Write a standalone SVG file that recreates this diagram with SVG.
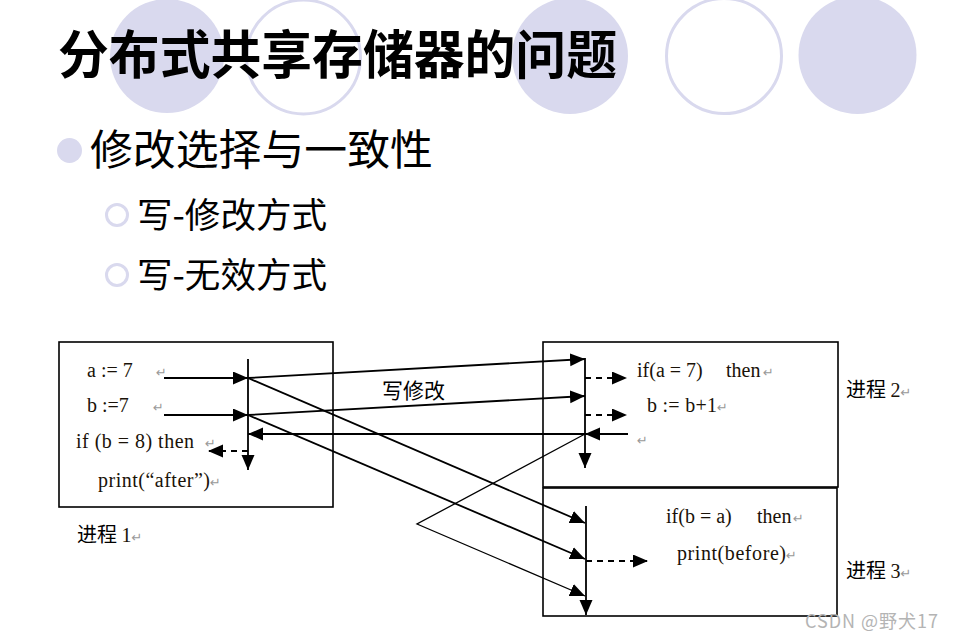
<svg xmlns="http://www.w3.org/2000/svg" width="954" height="640" viewBox="0 0 954 640">
<defs>
<style>
.bg{fill:#d9d9ee}
.ring{fill:none;stroke:#d9d9ee;stroke-width:3}
.title{font-family:"Noto Sans CJK SC","Noto Sans",sans-serif;font-weight:700;font-size:52px;fill:#000}
.cn{font-family:"Noto Sans CJK SC",sans-serif;fill:#000}
.code{font-family:"Liberation Serif",serif;font-size:20px;fill:#1a1208}
.ret{font-family:"DejaVu Sans",sans-serif;font-size:13px;fill:#999}
.box{fill:#fff;stroke:#000;stroke-width:1.6}
.ln{fill:none;stroke:#000;stroke-width:1.8}
.thin{fill:none;stroke:#000;stroke-width:1.3}
.dash{fill:none;stroke:#000;stroke-width:1.8;stroke-dasharray:6 5}
</style>
<marker id="ah" markerUnits="userSpaceOnUse" markerWidth="16" markerHeight="14" refX="15" refY="6.5" orient="auto">
<path d="M0,0 L15,6.5 L0,13 Z" fill="#000"/>
</marker>
</defs>
<rect width="954" height="640" fill="#fff"/>
<g id="background">
<circle class="bg" cx="167" cy="56" r="57"/>
<circle class="ring" cx="303.5" cy="57" r="57"/>
<circle class="bg" cx="570" cy="56" r="58"/>
<circle class="ring" cx="724" cy="56" r="57.5"/>
<circle class="bg" cx="857.5" cy="55" r="59"/>
</g>
<g id="title"><text class="title" x="58" y="74" textLength="559" lengthAdjust="spacingAndGlyphs">分布式共享存储器的问题</text></g>
<g id="bullets">
<circle class="bg" cx="69.5" cy="150.5" r="12.5"/>
<text class="cn" x="90" y="165" font-size="42" textLength="343" lengthAdjust="spacingAndGlyphs">修改选择与一致性</text>
<circle class="ring" cx="117" cy="215" r="10.5" stroke-width="2.5"/>
<text class="cn" x="137" y="228" font-size="35" textLength="190" lengthAdjust="spacingAndGlyphs">写-修改方式</text>
<circle class="ring" cx="117" cy="275" r="10.5" stroke-width="2.5"/>
<text class="cn" x="137" y="288" font-size="35" textLength="190" lengthAdjust="spacingAndGlyphs">写-无效方式</text>
</g>
<g id="process1">
<rect class="box" x="59" y="342" width="274" height="165"/>
<text class="code" x="87" y="377">a := 7</text><text class="ret" x="156" y="377">↵</text>
<text class="code" x="87" y="412">b :=7</text><text class="ret" x="153" y="412">↵</text>
<text class="code" x="76" y="448" textLength="118">if (b = 8) then</text><text class="ret" x="205" y="448">↵</text>
<text class="code" x="98" y="487" textLength="112">print(“after”)</text><text class="ret" x="210" y="487">↵</text>
</g>
<g id="label1"><text class="cn" x="77" y="542" font-size="20">进程 <tspan font-family="Liberation Serif" fill="#1a1208">1</tspan><tspan class="ret">↵</tspan></text></g>
<g id="process2">
<rect class="box" x="543" y="342" width="295" height="145"/>
<text class="code" x="637" y="377">if(a = 7)</text><text class="code" x="726" y="377">then</text><text class="ret" x="763" y="377">↵</text>
<text class="code" x="647" y="412" textLength="70">b := b+1</text><text class="ret" x="717" y="412">↵</text>
<text class="ret" x="637" y="445">↵</text>
</g>
<g id="label2"><text class="cn" x="846" y="397" font-size="20">进程 <tspan font-family="Liberation Serif" fill="#1a1208">2</tspan><tspan class="ret">↵</tspan></text></g>
<g id="process3">
<rect class="box" x="543" y="488" width="294" height="128"/>
<text class="code" x="666" y="523">if(b = a)</text><text class="code" x="757" y="523">then</text><text class="ret" x="793" y="523">↵</text>
<text class="code" x="677" y="560" textLength="109">print(before)</text><text class="ret" x="786" y="560">↵</text>
</g>
<g id="label3"><text class="cn" x="846" y="578" font-size="20">进程 <tspan font-family="Liberation Serif" fill="#1a1208">3</tspan><tspan class="ret">↵</tspan></text></g>
<g id="edge-label"><text class="cn" x="382" y="398" font-size="21">写修改</text></g>
<g id="connectors">
<path class="ln" d="M164 378 L248 378" marker-end="url(#ah)"/>
<path class="ln" d="M164 415 L248 415" marker-end="url(#ah)"/>
<path class="ln" d="M248 359 L248 470" marker-end="url(#ah)"/>
<path class="dash" d="M248 451 L208 451" marker-end="url(#ah)"/>
<path class="ln" d="M628 434 L585 434" marker-end="url(#ah)"/>
<path class="ln" d="M585 434 L248 434" marker-end="url(#ah)"/>
<path class="ln" d="M248 378 L585 359" marker-end="url(#ah)"/>
<path class="ln" d="M248 415 L585 396" marker-end="url(#ah)"/>
<path class="ln" d="M248 378 L585 523" marker-end="url(#ah)"/>
<path class="ln" d="M248 415 L585 559" marker-end="url(#ah)"/>
<path class="thin" d="M585 434 L417 524 L585 596" marker-end="url(#ah)"/>
<path class="ln" d="M585 358 L585 468" marker-end="url(#ah)"/>
<path class="dash" d="M585 378 L627 378" marker-end="url(#ah)"/>
<path class="dash" d="M585 415 L627 415" marker-end="url(#ah)"/>
<path class="ln" d="M586 506 L586 615" marker-end="url(#ah)"/>
<path class="dash" d="M586 561 L648 561" marker-end="url(#ah)"/>
</g>
<g id="watermark"><text x="805" y="628" font-family="Noto Sans CJK SC,sans-serif" font-size="18" fill="#b4b4b4" textLength="133">CSDN @野犬17</text></g>
</svg>
